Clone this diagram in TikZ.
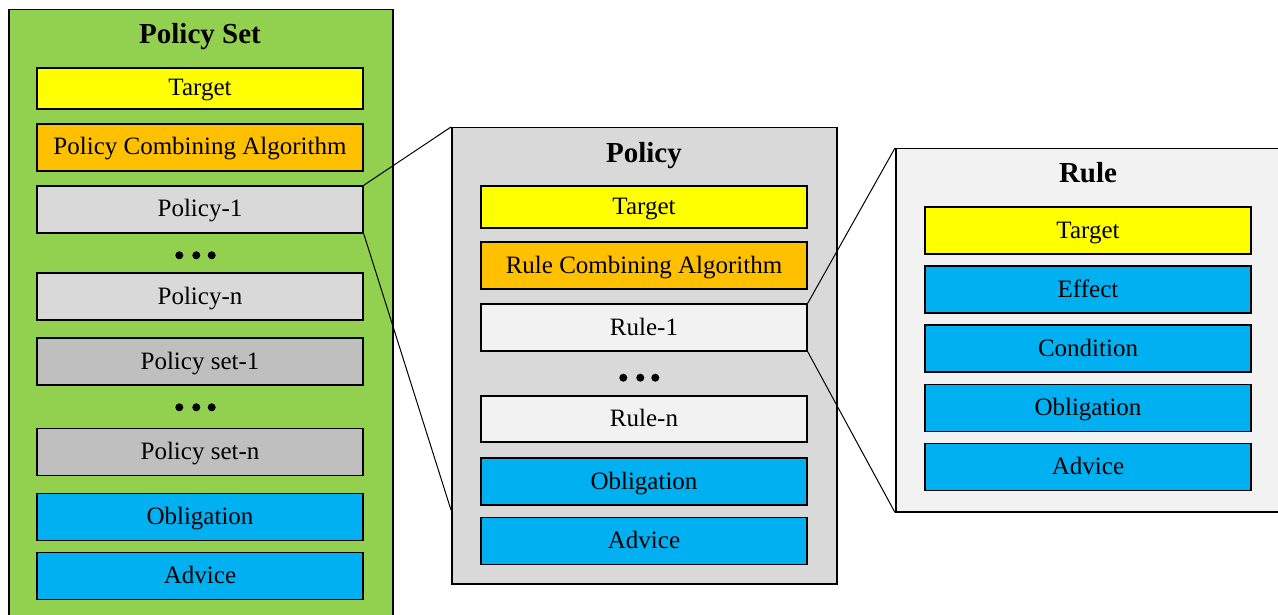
\documentclass[tikz,border=0pt]{standalone}
\usepackage{fontspec}
\setmainfont{Liberation Serif}
\definecolor{psgreen}{HTML}{92D050}
\definecolor{pgray}{HTML}{D9D9D9}
\definecolor{dgray}{HTML}{BFBFBF}
\definecolor{lgray}{HTML}{F2F2F2}
\definecolor{tyellow}{HTML}{FFFF00}
\definecolor{torange}{HTML}{FFC000}
\definecolor{tblue}{HTML}{00B0F0}
\begin{document}
\begin{tikzpicture}[x=1pt,y=-1pt,
  panel/.style={draw=black, line width=1.5pt, rectangle, inner sep=0pt, anchor=north west},
  box/.style={draw=black, line width=1.4pt, rectangle, inner sep=0pt, minimum width=326pt, minimum height=47pt, text height=17pt, text depth=2pt, font=\fontsize{25}{30}\selectfont},
  ttl/.style={font=\fontsize{29}{34}\selectfont\bfseries, inner sep=0pt, anchor=base},
  conn/.style={draw=black, line width=1pt},
  dot/.style={fill=black}]
\clip (0,0) rectangle (1278,615);
\fill[white] (0,0) rectangle (1278,615);
% Policy Set panel
\node[panel, fill=psgreen, minimum width=384pt, minimum height=640pt] (ps) at (8,9) {};
\node[ttl] (pstitle) at (200,43.3) {Policy Set};
\node[box, fill=tyellow, minimum height=41pt] (pstarget) at (200,88.5) {Target};
\node[box, fill=torange] (pspca) at (200,147.5) {Policy Combining Algorithm};
\node[box, fill=pgray] (p1) at (200,209.5) {Policy-1};
\node[box, fill=pgray] (pn) at (200,296.5) {Policy-n};
\node[box, fill=dgray] (s1) at (200,361.5) {Policy set-1};
\node[box, fill=dgray] (sn) at (200,452) {Policy set-n};
\node[box, fill=tblue] (psobl) at (200,517) {Obligation};
\node[box, fill=tblue] (psadv) at (200,576) {Advice};
\foreach \x in {179.3,196.3,211.7}{\fill[dot] (\x,255.3) circle (4);}
\foreach \x in {179.3,196.3,211.7}{\fill[dot] (\x,407.3) circle (4);}
% Policy panel
\node[panel, fill=pgray, minimum width=385pt, minimum height=456pt] (pol) at (451,127) {};
\node[ttl] (poltitle) at (644,162.3) {Policy};
\node[box, fill=tyellow, minimum height=42pt] (poltarget) at (644,207) {Target};
\node[box, fill=torange] (rca) at (644,265.5) {Rule Combining Algorithm};
\node[box, fill=lgray] (r1) at (644,327.5) {Rule-1};
\node[box, fill=lgray, minimum height=46pt] (rn) at (644,419) {Rule-n};
\node[box, fill=tblue] (polobl) at (644,481.5) {Obligation};
\node[box, fill=tblue] (poladv) at (644,541) {Advice};
\foreach \x in {623.3,640.3,655.3}{\fill[dot] (\x,377.7) circle (4);}
% Rule panel
\node[panel, fill=lgray, minimum width=400pt, minimum height=363pt] (rule) at (895,148) {};
\node[ttl] (ruletitle) at (1088,182.3) {Rule};
\node[box, fill=tyellow] (rtarget) at (1088,230.5) {Target};
\node[box, fill=tblue] (reff) at (1088,289.5) {Effect};
\node[box, fill=tblue] (rcond) at (1088,348.5) {Condition};
\node[box, fill=tblue] (robl) at (1088,408) {Obligation};
\node[box, fill=tblue] (radv) at (1088,467) {Advice};
% connectors
\coordinate (polend) at (451,510);
\draw[conn] (p1.north east) -- (pol.north west);
\draw[conn] (p1.south east) -- (polend);
\draw[conn] (r1.north east) -- (rule.north west);
\draw[conn] (r1.south east) -- (rule.south west);
\end{tikzpicture}
\end{document}
